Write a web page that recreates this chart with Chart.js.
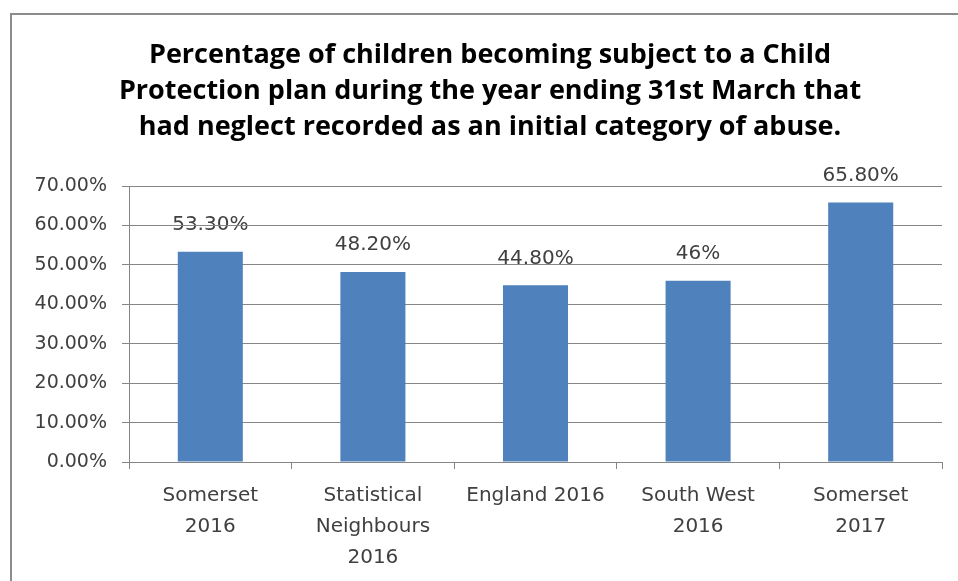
<!doctype html>
<html>
<head>
	<title>Neglect as initial category</title>
	<script src="https://cdn.jsdelivr.net/npm/chart.js@4"></script>
	<style>
		html, body { margin: 0; padding: 0; background: #fff; }
		#wrap { width: 958px; height: 581px; }
	</style>
</head>
<body>
	<div id="wrap"><canvas id="canvas"></canvas></div>
	<script>
		const categories = [
			['Somerset', '2016'],
			['Statistical', 'Neighbours', '2016'],
			['England 2016'],
			['South West', '2016'],
			['Somerset', '2017']
		];
		const values = [53.3, 48.2, 44.8, 46, 65.8];
		const valueLabels = ['53.30%', '48.20%', '44.80%', '46%', '65.80%'];
		const titleLines = [
			'Percentage of children becoming subject to a Child',
			'Protection plan during the year ending 31st March that',
			'had neglect recorded as an initial category of abuse.'
		];

		// frame, title and value labels, drawn before the grid so gridlines cross the labels
		const underlay = {
			id: 'underlay',
			beforeDraw(chart) {
				const ctx = chart.ctx;
				ctx.save();
				ctx.strokeStyle = '#8c8c8c';
				ctx.lineWidth = 2;
				ctx.beginPath();
				ctx.moveTo(11, 581);
				ctx.lineTo(11, 14);
				ctx.lineTo(958, 14);
				ctx.stroke();

				ctx.textAlign = 'center';
				ctx.textBaseline = 'middle';
				ctx.fillStyle = '#000';
				ctx.font = 'bold 27px "Open Sans"';
				titleLines.forEach((line, i) => {
					ctx.fillText(line, 490, 55 + i * 36);
				});

				ctx.font = '20px "DejaVu Sans"';
				ctx.fillStyle = '#404040';
				chart.getDatasetMeta(0).data.forEach((bar, i) => {
					ctx.fillText(valueLabels[i], bar.x, bar.y - 27);
				});
				ctx.restore();
			}
		};

		const config = {
			type: 'bar',
			data: {
				labels: categories,
				datasets: [{
					data: values,
					backgroundColor: '#4f81bd',
					barPercentage: 0.4,
					categoryPercentage: 1
				}]
			},
			options: {
				responsive: true,
				maintainAspectRatio: false,
				animation: false,
				layout: { padding: { left: 22, right: 16, top: 186, bottom: 0 } },
				plugins: {
					legend: { display: false },
					tooltip: { enabled: false },
					title: { display: false }
				},
				scales: {
					x: {
						grid: {
							drawOnChartArea: false,
							tickLength: 7,
							color: '#868686'
						},
						border: { color: '#868686', width: 1 },
						ticks: {
							color: '#404040',
							padding: 11,
							maxRotation: 0,
							font: { family: 'DejaVu Sans', size: 20, lineHeight: 1.55 }
						},
						afterFit(scale) { scale.height = 119; }
					},
					y: {
						min: 0,
						max: 70,
						grid: {
							color: '#868686',
							tickLength: 7
						},
						border: { color: '#868686', width: 1 },
						ticks: {
							stepSize: 10,
							color: '#404040',
							padding: 15,
							font: { family: 'DejaVu Sans', size: 19 },
							callback: v => v.toFixed(2) + '%'
						},
						afterFit(scale) { scale.width = 107; }
					}
				}
			},
			plugins: [underlay]
		};

		new Chart(document.getElementById('canvas').getContext('2d'), config);
	</script>
</body>
</html>
